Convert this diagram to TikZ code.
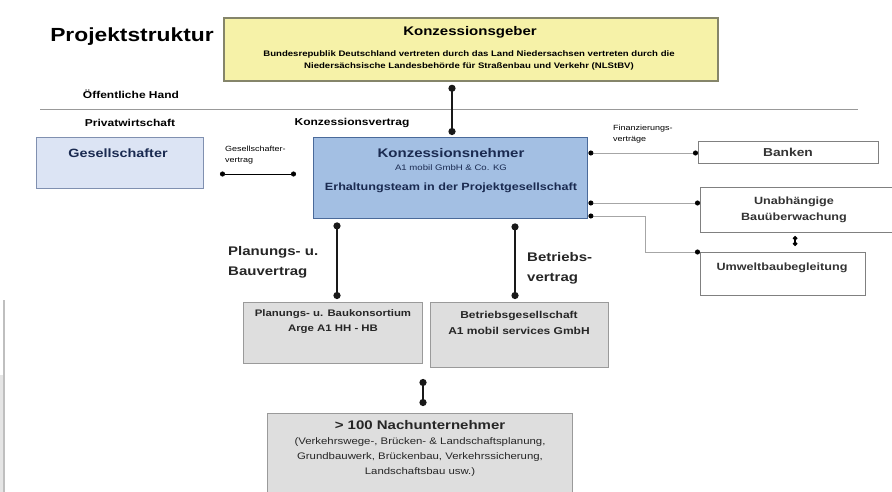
\documentclass[tikz,border=0pt]{standalone}
\usepackage{fontspec}
\setmainfont{Liberation Sans}[FakeStretch=1.2]
\usetikzlibrary{arrows.meta,calc}
\definecolor{kgfill}{HTML}{F6F2A8}
\definecolor{kgdraw}{HTML}{85856A}
\definecolor{knfill}{HTML}{A3BFE3}
\definecolor{kndraw}{HTML}{4A6A9A}
\definecolor{kntext}{HTML}{1A2A50}
\definecolor{gsfill}{HTML}{DCE4F4}
\definecolor{gsdraw}{HTML}{8090B0}
\definecolor{grfill}{HTML}{DEDEDE}
\definecolor{grdraw}{HTML}{9A9A9A}
\definecolor{wtdraw}{HTML}{808080}
\tikzset{
  box/.style={draw, anchor=north west, inner sep=0pt},
  lbl/.style={inner sep=0pt, anchor=center, align=center},
  bigarr/.style={line width=2.6pt, {Circle[length=7pt]}-{Circle[length=7pt]}, black!90},
  dotline/.style={draw=gray!70, line width=0.8pt, {Circle[length=5pt,black]}-{Circle[length=5pt,black]}},
  smallarr/.style={line width=1.2pt, {Circle[length=4.5pt]}-{Circle[length=4.5pt]}},
}
\begin{document}
\begin{tikzpicture}[x=1pt,y=-1pt]
\useasboundingbox[fill=white] (0,0) rectangle (892,492);

% left edge strip
\fill[gray!20] (0,375) rectangle (3,492);
\fill[gray!50] (2.5,300) rectangle (4.5,492);

% title
\node[lbl, font=\fontsize{19}{22}\selectfont\bfseries] (title) at (132,37) {Projektstruktur};

% Konzessionsgeber
\node[box, fill=kgfill, draw=kgdraw, line width=1.8pt, minimum width=494pt, minimum height=63pt] (kg) at (223,17) {};
\node[lbl, font=\fontsize{12.5}{14}\selectfont\bfseries] (kgt) at (470,32) {Konzessionsgeber};
\node[lbl, font=\fontsize{8}{12}\selectfont\bfseries] (kgs) at (469,60) {Bundesrepublik Deutschland vertreten durch das Land Niedersachsen vertreten durch die\\Niedersächsische Landesbehörde für Straßenbau und Verkehr (NLStBV)};

% separator
\coordinate (sepL) at (40,109);
\coordinate (sepR) at (858,109);
\draw[gray!80, line width=0.8pt] (sepL) -- (sepR);
\node[lbl, font=\fontsize{10}{12}\selectfont\bfseries] (oh) at (131,94) {Öffentliche Hand};
\node[lbl, font=\fontsize{10}{12}\selectfont\bfseries] (pw) at (130,123) {Privatwirtschaft};
\node[lbl, font=\fontsize{10}{12}\selectfont\bfseries] (kv) at (352,123) {Konzessionsvertrag};

% Gesellschafter
\node[box, fill=gsfill, draw=gsdraw, line width=1.2pt, minimum width=167pt, minimum height=51pt] (gs) at (36,137) {};
\node[lbl, font=\fontsize{12}{14}\selectfont\bfseries, text=kntext] (gst) at (118,153) {Gesellschafter};

% Konzessionsnehmer
\node[box, fill=knfill, draw=kndraw, line width=1.4pt, minimum width=274pt, minimum height=81pt] (kn) at (313,137) {};
\node[lbl, font=\fontsize{12.5}{14}\selectfont\bfseries, text=kntext] (knt) at (451,153) {Konzessionsnehmer};
\node[lbl, font=\fontsize{8}{10}\selectfont, text=kntext] (kns) at (451,168) {A1 mobil GmbH \& Co. KG};
\node[lbl, font=\fontsize{10.5}{12}\selectfont\bfseries, text=kntext] (knb) at (451,188) {Erhaltungsteam in der Projektgesellschaft};

% Gesellschaftervertrag
\node[lbl, font=\fontsize{7.5}{11}\selectfont, align=left, anchor=west] (gvt) at (225,155) {Gesellschafter-\\vertrag};
\coordinate (gvL) at (220,174);
\coordinate (gvR) at (296,174);
\draw[line width=0.7pt, {Circle[length=5pt]}-{Circle[length=5pt]}] (gvL) -- (gvR);

% Konzessionsvertrag arrow
\coordinate (ka) at (452,0);
\draw[bigarr] ($(kg.south -| ka)+(0,3)$) -- ($(kn.north -| ka)+(0,-2)$);

% right side boxes
\node[box, draw=wtdraw, line width=1pt, minimum width=180pt, minimum height=22pt] (bk) at (698,141) {};
\node[lbl, font=\fontsize{11.5}{13}\selectfont\bfseries, text=black!80] (bkt) at (788,152) {Banken};
\node[box, draw=wtdraw, line width=1pt, minimum width=200pt, minimum height=45pt] (ub) at (700,187) {};
\node[lbl, font=\fontsize{10.5}{16}\selectfont\bfseries, text=black!80] (ubt) at (794,210) {Unabhängige\\Bauüberwachung};
\node[box, draw=wtdraw, line width=1pt, minimum width=165pt, minimum height=43pt] (uw) at (700,252) {};
\node[lbl, font=\fontsize{10.5}{13}\selectfont\bfseries, text=black!80] (uwt) at (782,268) {Umweltbaubegleitung};

\node[lbl, font=\fontsize{7.5}{11}\selectfont, align=left, anchor=west] (fvt) at (613,134) {Finanzierungs-\\verträge};

\coordinate (r1) at (0,153);
\coordinate (r2) at (0,203);
\coordinate (r3) at (0,216);
\coordinate (bend) at (645,0);
\draw[dotline] (kn.east |- r1) -- (bk.west |- r1);
\draw[dotline] (kn.east |- r2) -- (ub.west |- r2);
\draw[dotline] (kn.east |- r3) -| (bend |- uw.north) -- (uw.north west);
\coordinate (ua) at (795,0);
\draw[smallarr] ($(ub.south -| ua)+(0,3)$) -- ($(uw.north -| ua)+(0,-6)$);

% Planungs / Betriebs
\node[box, fill=grfill, draw=grdraw, line width=1pt, minimum width=179pt, minimum height=61pt] (pb) at (243,302) {};
\node[lbl, font=\fontsize{9.5}{15}\selectfont\bfseries, text=black!85] (pbt) at (333,322) {Planungs- u. Baukonsortium\\Arge A1 HH - HB};
\node[box, fill=grfill, draw=grdraw, line width=1pt, minimum width=178pt, minimum height=65pt] (bg) at (430,302) {};
\node[lbl, font=\fontsize{10}{16}\selectfont\bfseries, text=black!85] (bgt) at (519,323) {Betriebsgesellschaft\\A1 mobil services GmbH};

\node[lbl, font=\fontsize{12.5}{20}\selectfont\bfseries, text=black!85, align=left, anchor=west] (pbl) at (228,262) {Planungs- u.\\Bauvertrag};
\node[lbl, font=\fontsize{12.5}{20}\selectfont\bfseries, text=black!85, align=left, anchor=west] (bgl) at (527,268) {Betriebs-\\vertrag};

\coordinate (pa) at (337,0);
\coordinate (ba) at (515,0);
\draw[bigarr] ($(kn.south -| pa)+(0,3)$) -- ($(pb.north -| pa)+(0,-3)$);
\draw[bigarr] ($(kn.south -| ba)+(0,4)$) -- ($(bg.north -| ba)+(0,-3)$);

% Nachunternehmer
\node[box, fill=grfill, draw=grdraw, line width=1pt, minimum width=305pt, minimum height=85pt] (nu) at (267,413) {};
\node[lbl, font=\fontsize{12.5}{14}\selectfont\bfseries, text=black!85] (nut) at (420,425) {> 100 Nachunternehmer};
\node[lbl, font=\fontsize{9.5}{15}\selectfont, text=black!85] (nus) at (420,457) {(Verkehrswege-, Brücken- \& Landschaftsplanung,\\Grundbauwerk, Brückenbau, Verkehrssicherung,\\Landschaftsbau usw.)};

\coordinate (na) at (423,0);
\draw[bigarr] ($(pb.south -| na)+(0,15)$) -- ($(nu.north -| na)+(0,-7)$);
\end{tikzpicture}
\end{document}
